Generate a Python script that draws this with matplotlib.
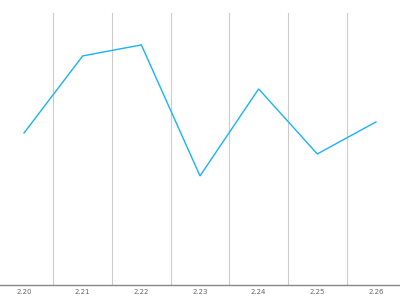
import matplotlib
matplotlib.use('Agg')
import matplotlib.pyplot as plt

# categories along the x axis and the single series
dates = ['2.20', '2.21', '2.22', '2.23', '2.24', '2.25', '2.26']
values = [152, 229, 240, 109, 196, 131, 163]

fig = plt.figure(figsize=(4, 3), dpi=100)
ax = fig.add_axes([0, 0.05, 1, 0.907])

x = list(range(len(dates)))
ax.plot(x, values, color='#1ab2f5', linewidth=1.0, solid_joinstyle='miter')

ax.set_xlim(-0.41, len(dates) - 1 + 0.41)
ax.set_ylim(0, 272)

# vertical separators between categories
for b in range(len(dates) - 1):
    ax.axvline(b + 0.5, color='#cccccc', linewidth=0.8, zorder=0)

ax.set_xticks(x)
ax.set_xticklabels(dates, fontsize=5, color='#666666')
ax.tick_params(axis='x', length=0, pad=3)
ax.set_yticks([])

for side in ['top', 'left', 'right']:
    ax.spines[side].set_visible(False)
ax.spines['bottom'].set_color('#888888')
ax.spines['bottom'].set_linewidth(1.0)

fig.savefig('out.png', dpi=100)
